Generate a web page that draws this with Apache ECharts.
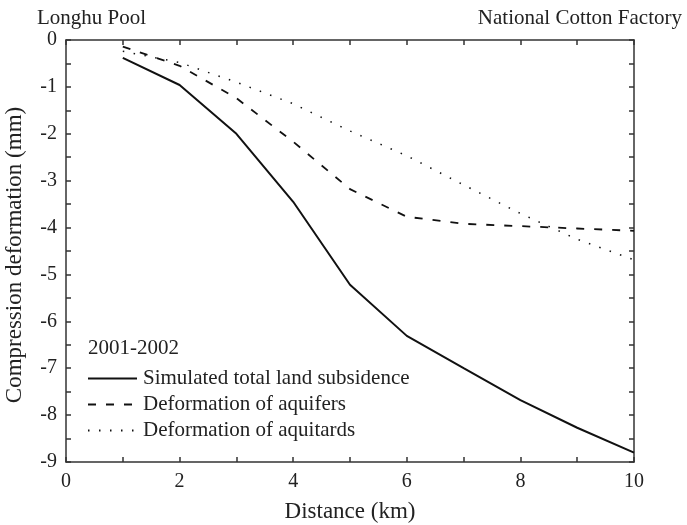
<!DOCTYPE html>
<html>
<head>
<meta charset="utf-8">
<script src="https://cdn.jsdelivr.net/npm/echarts@6/dist/echarts.min.js"></script>
<style>html,body{margin:0;padding:0;background:#fff}#c{width:687px;height:525px}</style>
</head>
<body>
<div id="c"></div>
<script>
var distances = [1, 2, 3, 4, 5, 6, 7, 8, 9, 10];
var totalSubsidence = [-0.38, -0.96, -2.0, -3.45, -5.22, -6.31, -7.0, -7.68, -8.27, -8.8];
var aquiferDeform = [-0.14, -0.55, -1.24, -2.17, -3.18, -3.77, -3.92, -3.97, -4.02, -4.07];
var aquitardDeform = [-0.24, -0.48, -0.9, -1.36, -1.94, -2.47, -3.09, -3.7, -4.25, -4.69];
var seriesNames = ['Simulated total land subsidence', 'Deformation of aquifers', 'Deformation of aquitards'];
var leftLabel = 'Longhu Pool';
var rightLabel = 'National Cotton Factory';
var periodLabel = '2001-2002';

function pairs(ys){ return distances.map(function(x,i){ return [x, ys[i]]; }); }

var FONT = '"Liberation Serif", "Times New Roman", serif';
var TXT = '#222';
var AX = '#333';

var chart = echarts.init(document.getElementById('c'), null, {renderer:'canvas'});
var axisCommon = {
  axisLine: {show:true, onZero:false, lineStyle:{color:AX, width:1.5}},
  axisTick: {show:true, inside:true, length:5, lineStyle:{color:AX, width:1.5}},
  minorTick: {show:true, splitNumber:2, length:5, lineStyle:{color:AX, width:1.5}},
  splitLine: {show:false}
};
chart.setOption({
  backgroundColor:'#fff',
  animation:false,
  textStyle:{fontFamily:FONT},
  title:[
    {text:leftLabel, left:32, top:3, textStyle:{fontFamily:FONT, fontWeight:'normal', fontSize:21, color:TXT}},
    {text:rightLabel, right:0, top:3, textStyle:{fontFamily:FONT, fontWeight:'normal', fontSize:21, color:TXT}},
    {text:periodLabel, left:83, top:333, textStyle:{fontFamily:FONT, fontWeight:'normal', fontSize:21, color:TXT}}
  ],
  legend:{
    orient:'vertical', left:87, top:368, itemWidth:49, itemHeight:14, itemGap:5, padding:0,
    itemStyle:{opacity:0},
    textStyle:{fontFamily:FONT, fontSize:21, color:TXT, padding:[0,0,0,1]},
    data:seriesNames
  },
  grid:{left:66, right:53, top:40, bottom:63, containLabel:false, outerBoundsMode:'none'},
  xAxis:[
    Object.assign({type:'value', position:'bottom', min:0, max:10, interval:2,
      name:'Distance (km)', nameLocation:'middle', nameGap:38,
      nameTextStyle:{fontFamily:FONT, fontSize:23, color:TXT},
      axisLabel:{fontFamily:FONT, fontSize:20, color:TXT, margin:10}}, axisCommon),
    Object.assign({type:'value', position:'top', min:0, max:10, interval:2,
      axisLabel:{show:false}}, axisCommon)
  ],
  yAxis:[
    Object.assign({type:'value', position:'left', min:-9, max:0, interval:1,
      name:'Compression deformation (mm)', nameLocation:'middle', nameGap:40,
      nameTextStyle:{fontFamily:FONT, fontSize:23, color:TXT, padding:[0,8,0,0]},
      axisLabel:{fontFamily:FONT, fontSize:20, color:TXT, margin:9}}, axisCommon),
    Object.assign({type:'value', position:'right', min:-9, max:0, interval:1,
      axisLabel:{show:false}}, axisCommon)
  ],
  series:[
    {name:seriesNames[0], type:'line', data:pairs(totalSubsidence), showSymbol:false, symbol:'none',
      lineStyle:{color:'#111', width:2, type:'solid'}, itemStyle:{color:'#111'}},
    {name:seriesNames[1], type:'line', data:pairs(aquiferDeform), showSymbol:false, symbol:'none',
      lineStyle:{color:'#111', width:1.8, type:[8,10]}, itemStyle:{color:'#111'}},
    {name:seriesNames[2], type:'line', data:pairs(aquitardDeform), showSymbol:false, symbol:'none',
      lineStyle:{color:'#111', width:1.5, type:[1.5,9.5]}, itemStyle:{color:'#111'}}
  ]
});
</script>
</body>
</html>
